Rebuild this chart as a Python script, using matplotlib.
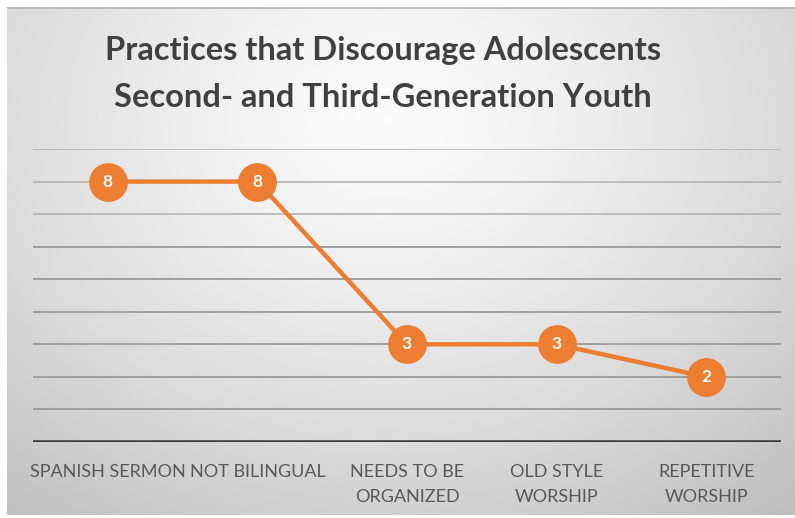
import numpy as np
import matplotlib.pyplot as plt

categories = ["SPANISH SERMON", "NOT BILINGUAL", "NEEDS TO BE\nORGANIZED",
              "OLD STYLE\nWORSHIP", "REPETITIVE\nWORSHIP"]
counts = [8, 8, 3, 3, 2]

title = "Practices that Discourage Adolescents\nSecond- and Third-Generation Youth"
orange = "#ED7D31"

W, H = 795, 518
fig = plt.figure(figsize=(W / 100, H / 100), dpi=100)
fig.patch.set_facecolor("white")

# radial grey backdrop for the chart panel
bg = fig.add_axes([7 / W, 3 / H, 788 / W, 508 / H])
gx, gy = np.meshgrid(np.linspace(0, 1, 400), np.linspace(0, 1, 260))
r = np.sqrt(((gx - 0.48) / 0.75) ** 2 + ((gy - 0.22) / 0.95) ** 2)
shade = 0.985 - 0.22 * np.clip(r, 0, 1.2) ** 1.3
bg.imshow(shade, cmap="gray", vmin=0, vmax=1, aspect="auto",
          extent=(0, 1, 1, 0), interpolation="bilinear")
bg.set_xlim(0, 1)
bg.set_ylim(1, 0)
bg.axis("off")
bg.plot([0, 1], [0.002, 0.002], color="#b4b4b4", lw=1.2)

ax = fig.add_axes([33 / W, (H - 442) / H, (781 - 33) / W, (442 - 149) / H])
ax.patch.set_alpha(0)
x = np.arange(len(categories))
ax.set_xlim(-0.5, len(categories) - 0.5)
ax.set_ylim(0, 9)

for v in range(1, 10):
    ax.axhline(v, color="#9a9a9a" if v < 7 else "#b8b8b8", lw=1.3, zorder=1)
ax.axhline(0, color="#3f3f3f", lw=2.6, zorder=2)

ax.plot(x, counts, color=orange, lw=3.2, zorder=3)
ax.scatter(x, counts, s=37 ** 2 * 0.53, color=orange, zorder=4)
for xi, v in zip(x, counts):
    ax.text(xi, v, str(v), color="white", fontsize=12.5, fontweight="bold",
            family="Lato", ha="center", va="center", zorder=5)

for s in ax.spines.values():
    s.set_visible(False)
ax.set_yticks([])
ax.set_xticks(x)
ax.set_xticklabels(categories, fontsize=13, color="#595959", family="Lato",
                   linespacing=1.7, va="top")
ax.tick_params(axis="x", length=0, pad=16)

fig.text(383 / W, 1 - 74 / H, title, ha="center", va="center",
         fontsize=23.5, fontweight="bold", color="#404040", family="Lato",
         linespacing=1.75)

fig.savefig("out.png", dpi=100)
